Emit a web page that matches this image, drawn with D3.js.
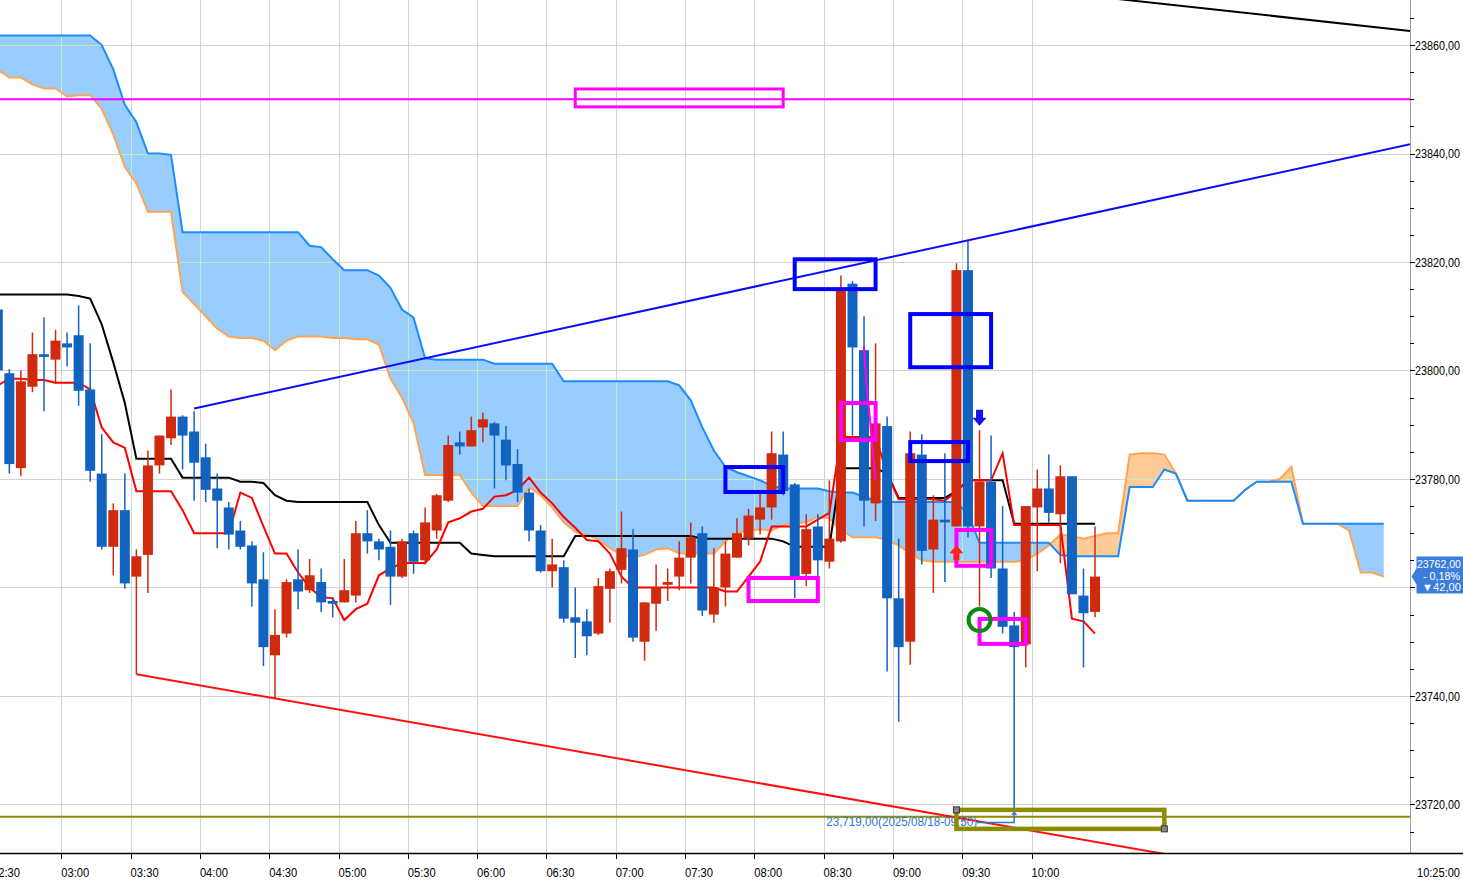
<!DOCTYPE html>
<html><head><meta charset="utf-8">
<script src="https://cdn.jsdelivr.net/npm/d3@7"></script>
<style>
html,body{margin:0;padding:0;background:#fff;overflow:hidden}
svg{display:block}
text{font-family:"Liberation Sans Narrow","Arial Narrow","Liberation Sans",Arial,sans-serif}
</style></head><body>
<svg id="chart" width="1463" height="882"></svg>
<script>
// ---------------- DATA ----------------
const firstCandle = new Date(2025, 7, 18, 2, 30);   // 5-minute candles, 02:30 .. 10:25
const open = [23811.25,23799.5,23782,23797,23803,23802,23805,23806.5,23796.5,23781,
23767.5,23774.25,23762,23766,23782.5,23787.5,23791.5,23788.75,23784,23778.25,
23774.75,23770.5,23767.75,23761.5,23747.5,23751.5,23761.5,23759.5,23761,23757.5,
23757.25,23758.5,23770,23768.5,23767.5,23762,23770,23765,23770.5,23776,
23786.75,23786,23789.5,23790.25,23787.25,23782.75,23777.5,23770.5,23763,23763.75,
23754.5,23753.75,23751.5,23759.75,23763.25,23767,23750,23757,23760.5,23762,
23765.5,23770,23755,23760,23765.5,23769,23772.5,23774.75,23784.5,23779,
23762.5,23771.25,23764.75,23768.5,23816,23803.75,23775.5,23789.75,23758,23750,
23784.5,23767,23772.5,23771.25,23818.5,23771.25,23779.5,23763.5,23753,23749.5,
23774.75,23778.25,23773.5,23780.5,23758.5,23755.5];
const high = [23812,23800.25,23800,23807,23809.75,23807.5,23807,23812,23805,23788.25,
23775.5,23781,23767,23785.25,23788,23796.5,23791.75,23792.5,23786.5,23781,
23775.75,23772.25,23768.5,23766.5,23756,23761.5,23767,23765.25,23763.5,23758.25,
23765.25,23772.25,23774.25,23769,23770.5,23769,23770.5,23774.75,23777.25,23788,
23788.75,23791.5,23792.25,23790.5,23789.75,23785.5,23778.25,23771.5,23769,23765,
23760,23756,23761.75,23763.5,23774,23770.75,23757.25,23764.25,23763.5,23768.5,
23772,23771.25,23767.25,23768.5,23772.75,23774.5,23777.5,23788.75,23788.75,23779.25,
23773.5,23773.5,23779.75,23817.5,23816.5,23810,23805,23791.5,23769,23788.75,
23788.25,23777,23784.75,23819.75,23824,23789,23788,23775,23755.5,23775,
23781.75,23784.5,23782.5,23780.5,23763.5,23771.25];
const low = [23799.5,23781,23780.5,23796,23792.5,23797.5,23800.75,23793.5,23779.5,23767,
23762.25,23759.75,23744,23759,23781,23786.25,23781.75,23776,23775.75,23767.25,
23767,23767,23756.5,23745.5,23739.5,23750.75,23756,23759,23755.5,23754.5,
23757.25,23757.25,23766.25,23765,23756.75,23761.75,23762.5,23764.25,23769,23775.75,
23784.5,23786,23786.75,23778.25,23779.75,23775.75,23768.5,23762.75,23760,23753.5,
23747,23747.5,23751.25,23753.5,23760.75,23750,23746.5,23752,23757.5,23759.5,
23760.75,23754.75,23753.5,23756.5,23765.5,23767.75,23769.75,23772.5,23777,23758,
23760.25,23762,23763.5,23768.25,23788,23771.25,23772.25,23744.5,23735.25,23745.75,
23764.25,23759,23761,23771.25,23769.25,23756.5,23761.75,23751.5,23719,23745.25,
23763,23772,23764.5,23758.75,23745.25,23754.5];
const close = [23800,23782.75,23798,23803,23802.5,23805.5,23804.25,23796.25,23781.5,23767.5,
23774.25,23760.75,23765.75,23782.5,23788,23791.5,23788,23783,23778,23776,
23769.75,23767.5,23760.75,23749,23751.25,23761,23759.25,23762.25,23757.25,23757,
23759.5,23770,23768.5,23767,23762,23768.5,23764.75,23772,23777,23786.25,
23786,23789,23791,23788,23782.5,23777.5,23770.5,23763,23764.25,23754.25,
23753.5,23751,23760.25,23763,23767.25,23750.75,23757.25,23760,23761,23765.5,
23769.25,23755.75,23760,23766.25,23770,23773.25,23774.75,23784.75,23777.75,23762,
23770.75,23765,23769,23814.75,23804.25,23776,23790.25,23758,23749,23784.75,
23766.75,23772.5,23772,23818.5,23771.25,23779.5,23763.5,23752.75,23749,23775,
23778.25,23773.75,23780.5,23758.75,23755.25,23762];
const prevClose = 23804;

// Ichimoku lines (one value per candle)
const tenkan = [23797.25,23798.5,23798.5,23798.25,23798.25,23797.75,23797.75,23797.75,23796.5,23789.5,
23786.75,23785.75,23777.75,23777.75,23777.75,23777.75,23774.25,23770,23770,23770,
23770,23777.5,23776.5,23771.25,23766.25,23766.25,23762.75,23760,23758.25,23758,
23754,23756,23757,23762.25,23763.5,23764.5,23764.5,23764.5,23767,23772,
23772.75,23774,23774.5,23776.75,23777,23778,23780.25,23777.5,23775.5,23773,
23771,23768.75,23768.5,23766.25,23762,23760,23760,23760,23760,23760,
23760,23760,23760,23759.25,23759.25,23762,23764.75,23771.25,23771.25,23771.25,
23771.25,23772.5,23773.75,23787.75,23787.75,23787.75,23787.75,23781,23776.25,23776.25,
23776.25,23776.25,23776,23777.75,23779.75,23779.75,23779.75,23784.75,23771.5,23771.5,
23771.5,23771.5,23771.5,23754.25,23753.75,23751.5];
const kijun = [23814,23814,23814,23814,23814,23814,23814,23813.75,23813.25,23808.5,
23801.5,23794,23783.75,23783.75,23783.75,23783.75,23780.25,23780.25,23780.25,23780.25,
23780.25,23779.5,23779.5,23779.25,23777,23776,23775.75,23775.75,23775.75,23775.75,
23775.75,23775.75,23775.75,23771.5,23768.25,23768.25,23768.25,23768.25,23768.25,23768.25,
23768.25,23766.25,23766,23765.75,23765.75,23765.75,23765.75,23765.75,23765.75,23765.75,
23769.5,23769.5,23769.5,23769.5,23769.5,23769.5,23769.5,23769.5,23769.5,23769.5,
23769.5,23769,23769,23769,23769,23769,23769,23769,23768.5,23767.5,
23767.5,23767.5,23767.5,23782,23782,23782,23782,23781,23776.5,23776.5,
23776.5,23776.5,23776.5,23777.75,23779.75,23779.75,23779.75,23779.75,23771.75,23771.75,
23771.75,23771.75,23771.75,23771.75,23771.75,23771.75];
// leading spans (drawn 25 candles ahead of the last candle)
const spanA = [23855.5,23854,23854,23852.75,23852,23852,23850.5,23850.75,23850.75,23848.25,
23843.5,23837.5,23834.5,23829.25,23829.25,23829.25,23814.5,23812.25,23810,23807.75,
23806.25,23806,23806,23805.5,23803.75,23805.5,23806.25,23806.25,23806.25,23806,
23806,23805.75,23805.75,23804.75,23798.5,23795,23790.25,23780.75,23780.75,23780.75,
23780.75,23777.5,23775,23775,23775,23775,23778.5,23777,23774.75,23772,
23770.25,23769.75,23768.75,23767.25,23766,23765.5,23766,23767,23767.25,23766.25,
23766.25,23766.25,23766.25,23768.5,23770,23770.5,23770.75,23770.5,23771.5,23771.75,
23772,23773,23772.75,23770.5,23769.25,23769.25,23769.25,23768.75,23767.75,23766.25,
23765,23764.75,23764.75,23764.75,23764.75,23764.75,23764.75,23764.75,23764.75,23765,
23766.25,23767.75,23769.75,23769.5,23769,23769.5,23770,23770,23784.5,23784.75,
23784.75,23784.5,23781,23776,23776,23776,23776,23776,23778,23779.5,
23779.5,23780,23782.25,23771.75,23771.75,23771.75,23771.75,23770.5,23762.75,23762.75,
23762];
const spanB = [23861.75,23861.75,23861.75,23861.75,23861.75,23861.75,23861.75,23861.75,23861.75,23860,
23855.5,23849,23845.75,23840,23840,23839.75,23825.5,23825.5,23825.5,23825.5,
23825.5,23825.5,23825.5,23825.5,23825.5,23825.5,23825.5,23823,23822.75,23820.5,
23818.5,23818.5,23818.5,23817.5,23815.25,23811.25,23809.75,23802.25,23802,23802,
23802,23802,23802,23801.25,23801.25,23801.25,23801.25,23801.25,23801.25,23798,
23798,23798,23798,23798,23798,23798,23798,23798,23798,23797.25,
23794.5,23789.5,23785.25,23782.25,23781.25,23780.5,23779.75,23778.75,23778.25,23778.25,
23778.25,23778.25,23777.75,23777.5,23777.5,23776.75,23776,23775.75,23775.75,23775.75,
23775.75,23775.75,23775.75,23775.75,23773.5,23768.25,23768.25,23768.25,23768.25,23768.25,
23768.25,23768.25,23766,23765.75,23765.75,23765.75,23765.75,23765.75,23778.5,23778.5,
23778.5,23781.75,23781,23776,23776,23776,23776,23776,23778,23779.5,
23779.5,23779.5,23779.5,23771.75,23771.75,23771.75,23771.75,23771.75,23771.75,23771.75,
23771.75];

const yMajorTicks = [23720,23740,23760,23780,23800,23820,23840,23860];
const yMinorTicks = [23715,23725,23730,23735,23745,23750,23755,23765,23770,23775,23785,23790,23795,23805,23810,23815,23825,23830,23835,23845,23850,23855,23865];

// drawn objects (candle index, price)
const hLines = [{price:23850, color:"#ff00ff"}, {price:23717.75, color:"#8c8c00"}];
const trendLines = [
  {p1:[17,23793], p2:[84,23824], color:"#0a0aff", extendLeft:false},
  {p1:[12,23744], p2:[100,23711.25], color:"#ff1010", extendLeft:false},
  {p1:[98,23868.25], p2:[122.25,23862.6], color:"#000000", extendLeft:true}
];
const boxes = [
  {i1:50,i2:68,p1:23851.9,p2:23848.6,color:"#ff00ff",w:3},
  {i1:63,i2:68,p1:23782.2,p2:23777.6,color:"#0000ff",w:4},
  {i1:69,i2:76,p1:23820.5,p2:23815,color:"#0000ff",w:4},
  {i1:79,i2:86,p1:23810.4,p2:23800.6,color:"#0000ff",w:4},
  {i1:79,i2:84,p1:23786.8,p2:23783.3,color:"#0000ff",w:4},
  {i1:65,i2:71,p1:23761.75,p2:23757.5,color:"#ff00ff",w:4},
  {i1:73,i2:76,p1:23794,p2:23787.2,color:"#ff00ff",w:4},
  {i1:83,i2:86,p1:23770.6,p2:23764,color:"#ff00ff",w:4},
  {i1:85,i2:89,p1:23754.2,p2:23749.6,color:"#ff00ff",w:4}
];
const magentaStroke = [[75,23804.3],[75.2,23797.7],[75.5,23791.4],[75.8,23784.1],[76,23779.8]];
const olMarker = {i1:83, i2:101, p1:23719, p2:23715.5};
const lowNote = {i:88, price:23719, text:"23,719,00(2025/08/18-09:50)"};
const greenCircle = {i:85, price:23754};
const downArrow = {i:85, price:23789.8};
const upArrow = {i:83, price:23767.8};

// ---------------- SCALES ----------------
const svg = d3.select("#chart");
const W = 1463, H = 882, plotR = 1410, plotB = 853;
const x = d3.scaleTime()
  .domain([new Date(2025,7,18,3,0), new Date(2025,7,18,10,0)])
  .range([61.3, 1031.5]);
const y = d3.scaleLinear().domain([23711.05, 23868.3]).range([plotB, 0]);
const xi = i => x(new Date(firstCandle.getTime() + (i*5 + 2.5)*60000));

const candles = open.map((o,i)=>({i, o, h:high[i], l:low[i], c:close[i]}));

svg.append("defs").append("clipPath").attr("id","plotClip")
  .append("rect").attr("x",0).attr("y",0).attr("width",plotR).attr("height",plotB);

const plot = svg.append("g").attr("clip-path","url(#plotClip)");

// grid
const timeTicks = d3.timeMinute.every(30).range(new Date(2025,7,18,2,30), new Date(2025,7,18,10,0,1));
const grid = plot.append("g").attr("shape-rendering","crispEdges");
function drawGrid(g, color){
  g.selectAll(".vg").data(timeTicks).join("line").attr("class","vg")
    .attr("x1",d=>Math.round(x(d))+0.5).attr("x2",d=>Math.round(x(d))+0.5)
    .attr("y1",0).attr("y2",plotB).attr("stroke",color).attr("stroke-width",1);
  g.selectAll(".hg").data(yMajorTicks).join("line").attr("class","hg")
    .attr("x1",0).attr("x2",plotR)
    .attr("y1",d=>Math.round(y(d))+0.5).attr("y2",d=>Math.round(y(d))+0.5)
    .attr("stroke",color).attr("stroke-width",1);
}
drawGrid(grid, "#d3d3d3");

// cloud
const cloudPts = [];
for (let i=0;i<spanA.length;i++){
  cloudPts.push({i, a:spanA[i], b:spanB[i]});
  if (i<spanA.length-1){
    const d0 = spanB[i]-spanA[i], d1 = spanB[i+1]-spanA[i+1];
    if (d0*d1<0){
      const t = d0/(d0-d1);
      cloudPts.push({i:i+t, a:spanA[i]+t*(spanA[i+1]-spanA[i]), b:spanB[i]+t*(spanB[i+1]-spanB[i])});
    }
  }
}
const blueArea = d3.area().x(d=>xi(d.i)).y0(d=>y(d.a)).y1(d=>y(Math.max(d.a,d.b)));
const peachArea = d3.area().x(d=>xi(d.i)).y0(d=>y(d.b)).y1(d=>y(Math.max(d.a,d.b)));
plot.append("path").attr("d",blueArea(cloudPts)).attr("fill","#99ccff");
plot.append("path").attr("d",peachArea(cloudPts)).attr("fill","#ffcc99");
const cloudArea = d3.area().x(d=>xi(d.i)).y0(d=>y(d.a)).y1(d=>y(d.b));
svg.select("defs").append("clipPath").attr("id","cloudClip")
  .append("path").attr("d",cloudArea(cloudPts));
drawGrid(plot.append("g").attr("clip-path","url(#cloudClip)").attr("shape-rendering","crispEdges"), "#c4ecc0");

const lineI = arr => d3.line().x((d,i)=>xi(i)).y(d=>y(d))(arr);
plot.append("path").attr("d",lineI(spanA)).attr("fill","none").attr("stroke","#ffa552").attr("stroke-width",2);
plot.append("path").attr("d",lineI(spanB)).attr("fill","none").attr("stroke","#1a8cff").attr("stroke-width",2);

// horizontal drawn lines
plot.selectAll(".hl").data(hLines).join("line").attr("class","hl")
  .attr("x1",0).attr("x2",plotR).attr("y1",d=>y(d.price)).attr("y2",d=>y(d.price))
  .attr("stroke",d=>d.color).attr("stroke-width",2);

// tenkan / kijun
plot.append("path").attr("d",lineI(kijun)).attr("fill","none").attr("stroke","#000").attr("stroke-width",2);
plot.append("path").attr("d",lineI(tenkan)).attr("fill","none").attr("stroke","#ff0000").attr("stroke-width",2);

// candles
const upC = "#cf2a0e", dnC = "#1262c0";
const cg = plot.append("g");
cg.selectAll(".wick").data(candles).join("line").attr("class","wick")
  .attr("x1",d=>xi(d.i)).attr("x2",d=>xi(d.i))
  .attr("y1",d=>y(d.h)).attr("y2",d=>y(d.l))
  .attr("stroke",d=>d.c>=d.o?upC:dnC).attr("stroke-width",1.5);
cg.selectAll(".body").data(candles).join("rect").attr("class","body")
  .attr("x",d=>xi(d.i)-5).attr("width",10)
  .attr("y",d=>y(Math.max(d.o,d.c)))
  .attr("height",d=>Math.max(2, y(Math.min(d.o,d.c))-y(Math.max(d.o,d.c))))
  .attr("fill",d=>d.c>=d.o?upC:dnC);

// trend lines (extended across the plot)
const iMin = -5, iMax = 130;
trendLines.forEach(t=>{
  const s = (t.p2[1]-t.p1[1])/(t.p2[0]-t.p1[0]);
  const st = t.extendLeft ? iMin : t.p1[0];
  plot.append("line")
    .attr("x1",xi(st)).attr("y1",y(t.p1[1]+s*(st-t.p1[0])))
    .attr("x2",xi(iMax)).attr("y2",y(t.p1[1]+s*(iMax-t.p1[0])))
    .attr("stroke",t.color).attr("stroke-width",2);
});

// magenta pen stroke
plot.append("path").attr("d",d3.line().x(d=>xi(d[0])).y(d=>y(d[1]))(magentaStroke))
  .attr("fill","none").attr("stroke","#ff00ff").attr("stroke-width",2);

// boxes
plot.selectAll(".box").data(boxes).join("rect").attr("class","box")
  .attr("x",d=>xi(d.i1)).attr("width",d=>xi(d.i2)-xi(d.i1))
  .attr("y",d=>y(d.p1)).attr("height",d=>y(d.p2)-y(d.p1))
  .attr("fill","none").attr("stroke",d=>d.color).attr("stroke-width",d=>d.w);

// green circle
plot.append("circle").attr("cx",xi(greenCircle.i)).attr("cy",y(greenCircle.price)).attr("r",11)
  .attr("fill","none").attr("stroke","#0a8a0a").attr("stroke-width",4);

// arrows
{
  const ax = xi(downArrow.i), ay = y(downArrow.price);
  plot.append("path").attr("fill","#1414e6")
    .attr("d",`M${ax-3.5},${ay-16}H${ax+3.5}V${ay-8}H${ax+7}L${ax},${ay}L${ax-7},${ay-8}H${ax-3.5}Z`);
  const ux = xi(upArrow.i), uy = y(upArrow.price);
  plot.append("path").attr("fill","#ff2020")
    .attr("d",`M${ux},${uy}L${ux+7},${uy+8}H${ux+3}V${uy+15}H${ux-3}V${uy+8}H${ux-7}Z`);
}

// low annotation
{
  const lx = xi(lowNote.i), ly = y(lowNote.price);
  plot.append("text").attr("x",lx-37).attr("y",ly+16).attr("text-anchor","end")
    .attr("font-size",12).attr("fill","#2a78d0")
    .attr("textLength",151).attr("lengthAdjust","spacingAndGlyphs").text(lowNote.text);
  plot.append("path").attr("d",`M${lx-37},${ly+12.5}H${lx}V${ly+3}`)
    .attr("fill","none").attr("stroke","#2a78d0").attr("stroke-width",1.5);
  plot.append("path").attr("d",`M${lx-3},${ly+5}L${lx},${ly+1}L${lx+3},${ly+5}Z`).attr("fill","#2a78d0");
  // olive marker box
  plot.append("rect").attr("x",xi(olMarker.i1)).attr("y",y(olMarker.p1))
    .attr("width",xi(olMarker.i2)-xi(olMarker.i1)).attr("height",y(olMarker.p2)-y(olMarker.p1))
    .attr("fill","none").attr("stroke","#8c8c00").attr("stroke-width",4.5);
  [[olMarker.i1,olMarker.p1],[olMarker.i2,olMarker.p2]].forEach(p=>{
    plot.append("rect").attr("x",xi(p[0])-3).attr("y",y(p[1])-3).attr("width",6).attr("height",6)
      .attr("fill","#8a8a8a").attr("stroke","#333").attr("stroke-width",1);
  });
}

// ---------------- AXES ----------------
const axisFont = 11;
const lastClose = close[close.length-1];
const tagY = y(lastClose);
// right axis
svg.append("line").attr("x1",plotR+0.5).attr("x2",plotR+0.5).attr("y1",0).attr("y2",plotB)
  .attr("stroke","#a0a0a0").attr("stroke-width",1);
svg.selectAll(".ymin").data(yMinorTicks).join("line").attr("class","ymin")
  .attr("x1",plotR).attr("x2",plotR+4).attr("y1",d=>Math.round(y(d))+0.5).attr("y2",d=>Math.round(y(d))+0.5)
  .attr("stroke","#000").attr("shape-rendering","crispEdges");
svg.selectAll(".ymaj").data(yMajorTicks).join("line").attr("class","ymaj")
  .attr("x1",plotR).attr("x2",plotR+5).attr("y1",d=>Math.round(y(d))+0.5).attr("y2",d=>Math.round(y(d))+0.5)
  .attr("stroke","#000").attr("shape-rendering","crispEdges");
// labels hidden behind the price tag are not drawn (as in the original)
svg.selectAll(".ylab").data(yMajorTicks.filter(v=>Math.abs(y(v)-tagY)>22)).join("text").attr("class","ylab")
  .attr("transform",d=>`translate(${plotR+5},${y(d)+4.7}) scale(1,1.15)`)
  .attr("font-size",axisFont).attr("fill","#000")
  .attr("textLength",45).attr("lengthAdjust","spacingAndGlyphs")
  .text(d=>d3.format(".2f")(d).replace(".",","));

// bottom axis
svg.append("line").attr("x1",0).attr("x2",W).attr("y1",plotB+0.5).attr("y2",plotB+0.5)
  .attr("stroke","#000").attr("stroke-width",1.5);
svg.selectAll(".xt").data(timeTicks).join("line").attr("class","xt")
  .attr("x1",d=>Math.round(x(d))+0.5).attr("x2",d=>Math.round(x(d))+0.5)
  .attr("y1",plotB).attr("y2",plotB+6).attr("stroke","#000").attr("shape-rendering","crispEdges");
svg.selectAll(".xl").data(timeTicks).join("text").attr("class","xl")
  .attr("transform",d=>`translate(${x(d)},877) scale(1,1.15)`)
  .attr("font-size",axisFont).attr("fill","#000")
  .attr("textLength",28).attr("lengthAdjust","spacingAndGlyphs")
  .text(d3.timeFormat("%H:%M"));
const lastTime = new Date(firstCandle.getTime() + (close.length-1)*5*60000);
svg.append("text").attr("transform","translate(1417,877) scale(1,1.15)")
  .attr("font-size",axisFont).attr("fill","#000")
  .attr("textLength",43).attr("lengthAdjust","spacingAndGlyphs")
  .text(d3.timeFormat("%H:%M:%S")(lastTime));

// price tag
{
  const yc = tagY;
  const chg = lastClose - prevClose, pct = chg/prevClose*100;
  svg.append("path").attr("fill","#3b7ddd")
    .attr("d",`M${plotR+1.5},${yc}L${plotR+6.5},${yc-8}V${yc-20}H${W}V${yc+17}H${plotR+6.5}V${yc+8}Z`);
  const tg = svg.append("g").attr("fill","#fff").attr("font-size",11).attr("text-anchor","end");
  tg.append("text").attr("x",1461).attr("y",yc-8.5).attr("textLength",44).attr("lengthAdjust","spacingAndGlyphs")
    .text(d3.format(".2f")(lastClose).replace(".",","));
  tg.append("text").attr("x",1460).attr("y",yc+3).attr("textLength",37).attr("lengthAdjust","spacingAndGlyphs")
    .text((pct<0?"- ":"+ ")+d3.format(".2f")(Math.abs(pct)).replace(".",",")+"%");
  tg.append("text").attr("x",1461).attr("y",yc+14.5).attr("textLength",39).attr("lengthAdjust","spacingAndGlyphs")
    .text((chg<0?"▼":"▲")+d3.format(".2f")(Math.abs(chg)).replace(".",","));
}
</script>
</body></html>
